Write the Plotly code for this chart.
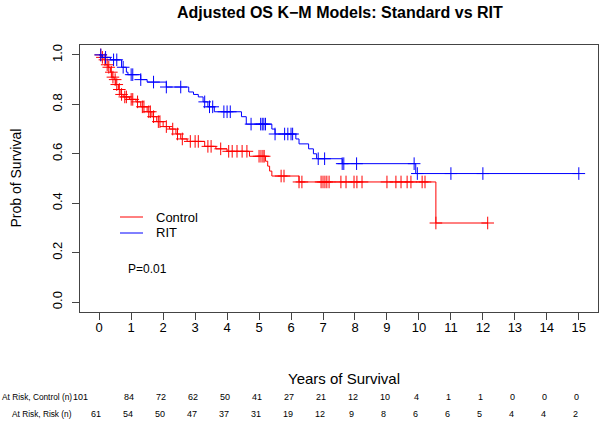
import plotly.graph_objects as go

# ---------------- data ----------------
ctrl_times = [0, 0.08, 0.15, 0.2, 0.28, 0.35, 0.4, 0.47, 0.52, 0.6, 0.68, 0.75, 0.95, 1.15, 1.3,
              1.5, 1.65, 1.8, 2.0, 2.2, 2.4, 2.55, 2.75, 3.3, 3.65, 4.0, 4.7, 5.2, 5.27, 5.33,
              5.4, 6.25, 10.53]
ctrl_surv = [1.0, 0.99, 0.98, 0.96, 0.95, 0.93, 0.91, 0.90, 0.88, 0.86, 0.84, 0.83, 0.82, 0.81, 0.79,
             0.77, 0.75, 0.73, 0.71, 0.70, 0.68, 0.66, 0.65, 0.63, 0.62, 0.61, 0.59, 0.57, 0.55, 0.53,
             0.51, 0.486, 0.32]
ctrl_end = 12.15
ctrl_censor = [0.05, 0.1, 0.18, 0.25, 0.3, 0.38, 0.43, 0.5, 0.55, 0.63, 0.7, 0.8, 0.85, 1.0, 1.05,
               1.2, 1.35, 1.4, 1.55, 1.6, 1.7, 1.85, 1.9, 2.1, 2.3, 2.45, 2.6, 2.85, 3.0, 3.1,
               3.4, 3.5, 3.8, 4.05, 4.16, 4.31, 4.47, 4.62, 5.0, 5.06, 5.12, 5.16, 5.69, 5.78,
               6.25, 6.34, 6.94, 7.0, 7.06, 7.12, 7.19, 7.56, 7.72, 7.97, 8.06, 8.22, 9.0, 9.28,
               9.44, 9.63, 9.75, 10.1, 10.19, 10.53, 12.15]

rit_times = [0, 0.1, 0.35, 0.7, 0.85, 0.9, 1.3, 1.5, 2.1, 2.8, 2.95, 3.1, 3.25, 3.4, 3.6, 4.45,
             4.6, 5.4, 5.5, 6.15, 6.25, 6.55, 6.7, 6.8, 7.6, 9.9]
rit_surv = [1.0, 0.99, 0.98, 0.95, 0.93, 0.92, 0.90, 0.89, 0.87, 0.85, 0.84, 0.83, 0.81, 0.79, 0.77, 0.75,
            0.72, 0.70, 0.68, 0.66, 0.64, 0.62, 0.60, 0.58, 0.56, 0.52]
rit_end = 15.0
rit_censor = [0.05, 0.2, 0.45, 0.55, 0.75, 1.0, 1.05, 1.3, 1.7, 2.1, 2.55, 3.3, 3.45, 3.55, 3.9,
              4.0, 4.1, 4.75, 5.05, 5.1, 5.15, 5.2, 5.5, 5.8, 5.9, 6.0, 6.05, 6.85, 7.05, 7.6,
              7.65, 8.05, 9.85, 9.95, 11.0, 12.0, 15.0]

risk_times = list(range(16))
risk_control = [101, 84, 72, 62, 50, 41, 27, 21, 12, 10, 4, 1, 1, 0, 0, 0]
risk_rit = [61, 54, 50, 47, 37, 31, 19, 12, 9, 8, 6, 6, 5, 4, 4, 2]

x_ticks = list(range(16))
y_ticks = [0.0, 0.2, 0.4, 0.6, 0.8, 1.0]

legend_names = ["Control", "RIT"]

RED = "#FF0000"
BLUE = "#0000FF"
FONT = "Liberation Sans, Arial, Helvetica, sans-serif"


def surv_at(times, surv, t):
    s = surv[0]
    for ti, si in zip(times, surv):
        if ti <= t + 1e-9:
            s = si
    return s


fig = go.Figure()
for name, times, surv, end, cens, col in [
    ("Control", ctrl_times, ctrl_surv, ctrl_end, ctrl_censor, RED),
    ("RIT", rit_times, rit_surv, rit_end, rit_censor, BLUE),
]:
    fig.add_trace(go.Scatter(x=times + [end], y=surv + [surv[-1]], mode="lines",
                             line=dict(color=col, width=1, shape="hv"), name=name,
                             showlegend=False))
    fig.add_trace(go.Scatter(x=cens, y=[surv_at(times, surv, c) for c in cens], mode="markers",
                             marker=dict(symbol="cross-thin", size=9,
                                         line=dict(color=col, width=1)),
                             showlegend=False, hoverinfo="skip"))

L, R, T, B = 80, 2, 45, 111
PW, PH = 600 - L - R, 423 - T - B


def px_x(px):
    return (px - L) / PW


def px_y(py):
    return (423 - B - py) / PH


def txt(text, x, y, size, xanchor="center", xref="paper", yref="paper", **kw):
    d = dict(text=text, xref=xref, yref=yref, x=x, y=y, xanchor=xanchor, yanchor="middle",
             showarrow=False, font=dict(size=size, color="black", family=FONT))
    d.update(kw)
    return d


ann = []
shapes = []
ann.append(txt("<b>Adjusted OS K\u2212M Models: Standard vs RIT</b>", px_x(340), px_y(13), 16))
ann.append(txt("Prob of Survival", px_x(15), 0.5, 14, textangle=-90))
ann.append(txt("Years of Survival", px_x(344), px_y(378), 15))
ann.append(txt("P=0.01", 1.5, 0.135, 12, xref="x", yref="y"))

# manual legend
for i, (nm, col) in enumerate(zip(legend_names, [RED, BLUE])):
    yy = px_y(217 + 16 * i)
    shapes.append(dict(type="line", xref="paper", yref="paper", x0=px_x(120), x1=px_x(143),
                       y0=yy, y1=yy, line=dict(color=col, width=1)))
    ann.append(txt(nm, px_x(154), yy, 13, xanchor="left"))

ann.append(txt("At Risk, Control (n)", px_x(74), px_y(397), 8.3, xanchor="right"))
ann.append(txt("At Risk, Risk (n)", px_x(74), px_y(414), 8.3, xanchor="right"))
for t, n in zip(risk_times, risk_control):
    ann.append(txt(str(n), t, px_y(397), 9, xref="x", xshift=-19 if t == 0 else -2))
for t, n in zip(risk_times, risk_rit):
    ann.append(txt(str(n), t, px_y(414), 9, xref="x", xshift=-3))

fig.update_layout(
    width=600, height=423, margin=dict(l=L, r=R, t=T, b=B, autoexpand=False),
    paper_bgcolor="white", plot_bgcolor="white",
    font=dict(family=FONT, color="black"),
    annotations=ann, shapes=shapes,
    showlegend=False,
    xaxis=dict(range=[-0.6, 15.6], tickvals=x_ticks, ticktext=[str(v) for v in x_ticks],
               showgrid=False, zeroline=False, showline=True, mirror=True, linecolor="#444",
               linewidth=1, ticks="outside", ticklen=7, tickcolor="#444", automargin=False,
               ticklabelstandoff=-4,
               tickfont=dict(size=13, family=FONT, color="black")),
    yaxis=dict(range=[-0.04, 1.04], tickvals=y_ticks, ticktext=["%.1f" % v for v in y_ticks],
               showgrid=False, zeroline=False, showline=True, mirror=True, linecolor="#444",
               linewidth=1, ticks="outside", ticklen=7, tickcolor="#444", tickangle=-90,
               automargin=False, ticklabelstandoff=5,
               tickfont=dict(size=13, family=FONT, color="black")),
)

fig.write_html("out.html", config={"displayModeBar": False},
               post_script="document.body.style.margin='0';document.body.style.padding='0';")
